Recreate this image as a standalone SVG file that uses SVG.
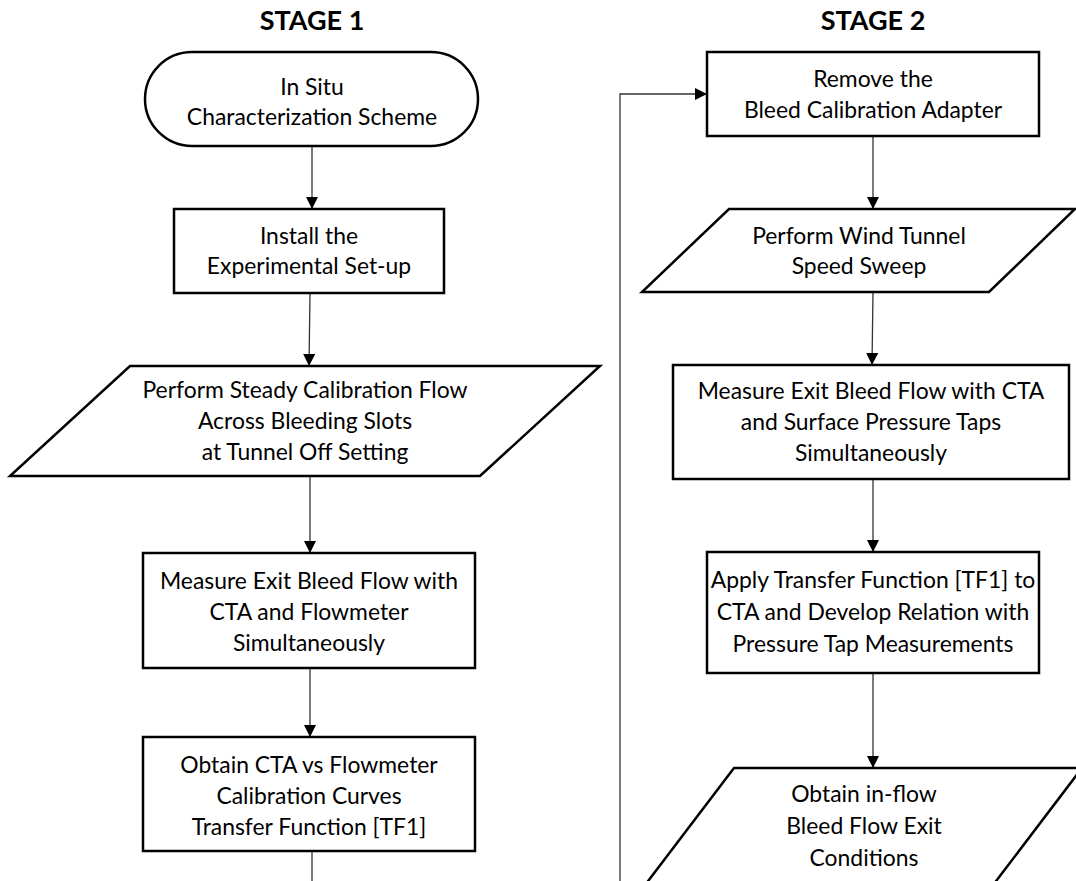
<svg xmlns="http://www.w3.org/2000/svg" width="1076" height="881" viewBox="0 0 1076 881">
  <defs>
    <marker id="arrow" viewBox="0 0 12 12" refX="12" refY="6" markerWidth="12" markerHeight="12" markerUnits="userSpaceOnUse" orient="auto">
      <path d="M0,0 L12,6 L0,12 Z" fill="#000"/>
    </marker>
    <style>
      .shape { fill: #fff; stroke: #000; stroke-width: 2.5; }
      .edge { fill: none; stroke: #333; stroke-width: 1.3; }
      .arrow { marker-end: url(#arrow); }
      .label { font-family: Lato, "Liberation Sans", sans-serif; font-size: 22.9px; fill: #000; text-anchor: middle; }
      .title { font-family: Lato, "Liberation Sans", sans-serif; font-size: 27px; font-weight: bold; fill: #000; text-anchor: middle; }
    </style>
  </defs>
  <rect width="1076" height="881" fill="#fff"/>

  <!-- column headings -->
  <text class="title" x="312" y="30">STAGE 1</text>
  <text class="title" x="873" y="30">STAGE 2</text>

  <!-- connectors -->
  <g id="connectors">
    <line class="edge arrow" x1="312" y1="147" x2="312" y2="209"/>
    <line class="edge arrow" x1="310" y1="293" x2="309" y2="366"/>
    <line class="edge arrow" x1="310" y1="476" x2="310" y2="553"/>
    <line class="edge arrow" x1="310" y1="668" x2="310" y2="737"/>
    <line class="edge" x1="312" y1="851" x2="312" y2="881"/>
    <polyline class="edge arrow" points="620,881 620,94 707,94"/>
    <line class="edge arrow" x1="873" y1="137" x2="873" y2="209"/>
    <line class="edge arrow" x1="873" y1="292" x2="872" y2="365"/>
    <line class="edge arrow" x1="873" y1="479" x2="873" y2="552"/>
    <line class="edge arrow" x1="873" y1="673" x2="873" y2="768"/>
  </g>

  <!-- stage 1 -->
  <g id="start">
    <rect class="shape" x="145" y="52" width="333" height="94" rx="47" ry="47"/>
    <text class="label" x="312" y="95">In Situ</text>
    <text class="label" x="312" y="125">Characterization Scheme</text>
  </g>
  <g id="install">
    <rect class="shape" x="174" y="209" width="270" height="84"/>
    <text class="label" x="309" y="244">Install the</text>
    <text class="label" x="309" y="274">Experimental Set-up</text>
  </g>
  <g id="steady-flow">
    <polygon class="shape" points="130,366 600,366 480,476 10,476"/>
    <text class="label" x="305" y="398">Perform Steady Calibration Flow</text>
    <text class="label" x="305" y="429">Across Bleeding Slots</text>
    <text class="label" x="305" y="460">at Tunnel Off Setting</text>
  </g>
  <g id="measure-flowmeter">
    <rect class="shape" x="143" y="553" width="332" height="115"/>
    <text class="label" x="309" y="589">Measure Exit Bleed Flow with</text>
    <text class="label" x="309" y="620">CTA and Flowmeter</text>
    <text class="label" x="309" y="651">Simultaneously</text>
  </g>
  <g id="calibration-curves">
    <rect class="shape" x="143" y="737" width="332" height="114"/>
    <text class="label" x="309" y="773">Obtain CTA vs Flowmeter</text>
    <text class="label" x="309" y="804">Calibration Curves</text>
    <text class="label" x="309" y="835">Transfer Function [TF1]</text>
  </g>

  <!-- stage 2 -->
  <g id="remove-adapter">
    <rect class="shape" x="707" y="52" width="332" height="84"/>
    <text class="label" x="873" y="87">Remove the</text>
    <text class="label" x="873" y="118">Bleed Calibration Adapter</text>
  </g>
  <g id="speed-sweep">
    <polygon class="shape" points="729,209 1075,209 989,292 642,292"/>
    <text class="label" x="859" y="244">Perform Wind Tunnel</text>
    <text class="label" x="859" y="274">Speed Sweep</text>
  </g>
  <g id="measure-taps">
    <rect class="shape" x="673" y="365" width="396" height="114"/>
    <text class="label" x="871" y="399">Measure Exit Bleed Flow with CTA</text>
    <text class="label" x="871" y="430">and Surface Pressure Taps</text>
    <text class="label" x="871" y="461">Simultaneously</text>
  </g>
  <g id="apply-transfer">
    <rect class="shape" x="707" y="552" width="332" height="121"/>
    <text class="label" x="873" y="588">Apply Transfer Function [TF1] to</text>
    <text class="label" x="873" y="620">CTA and Develop Relation with</text>
    <text class="label" x="873" y="652">Pressure Tap Measurements</text>
  </g>
  <g id="exit-conditions">
    <polygon class="shape" points="734,768 1082,768 987,893 639,893"/>
    <text class="label" x="864" y="802">Obtain in-flow</text>
    <text class="label" x="864" y="834">Bleed Flow Exit</text>
    <text class="label" x="864" y="866">Conditions</text>
  </g>
</svg>
